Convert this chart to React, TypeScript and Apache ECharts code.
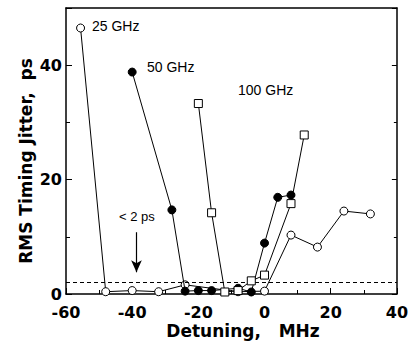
import React, { useEffect, useRef } from "react";
import * as echarts from "echarts";

const f25x = [-55.6, -48, -40, -32, -24, -8, 0, 8, 16, 24, 32];
const f25y = [46.5, 0.4, 0.6, 0.4, 1.6, 0.4, 0.5, 10.3, 8.2, 14.5, 14.0];
const f50x = [-40, -28, -24, -20, -16, -8, -4, 0, 4, 8];
const f50y = [38.8, 14.7, 0.5, 0.6, 0.6, 1.0, 0.35, 8.9, 16.9, 17.3];
const f100x = [-20, -16, -12, -8, -4, 0, 8, 12];
const f100y = [33.3, 14.2, 0.35, 0.6, 2.3, 3.3, 15.8, 27.8];
const xTicks = [-60, -40, -20, 0, 20, 40];
const yTicks = [0, 20, 40];
const thresholdPs = 2;
const arrowX = -38.7;
const arrowFrom = 10.8;
const arrowTo = 3.8;

const zip = (xs: number[], ys: number[]) => xs.map((x, i) => [x, ys[i]]);

export default function App() {
  const ref = useRef<HTMLDivElement>(null);
  useEffect(() => {
    document.body.style.margin = "0";
    const chart = echarts.init(ref.current!, null, { renderer: "svg" });
    const tickFont = {
      fontFamily: "DejaVu Sans",
      fontWeight: "bold" as const,
      fontSize: 16,
      color: "#000",
    };
    const axisLine = { show: true, onZero: false, lineStyle: { color: "#000", width: 1.5 } };
    chart.setOption({
      animation: false,
      backgroundColor: "#fff",
      grid: { left: 66, right: 11, top: 8, bottom: 50 },
      xAxis: [
        {
          type: "value",
          min: -60,
          max: 40,
          interval: 20,
          axisLine,
          axisTick: { inside: true, length: 6, lineStyle: { color: "#000" } },
          minorTick: { show: true, splitNumber: 2, length: 4, lineStyle: { color: "#000" } },
          splitLine: { show: false },
          axisLabel: {
            ...tickFont,
            margin: 10,
            formatter: (v: number) => (xTicks.includes(v) ? String(v) : ""),
          },
        },
        {
          type: "value",
          position: "top",
          min: -60,
          max: 40,
          interval: 20,
          axisLine,
          axisTick: { show: false },
          axisLabel: { show: false },
          splitLine: { show: false },
        },
      ],
      yAxis: [
        {
          type: "value",
          min: 0,
          max: 50,
          interval: 20,
          axisLine,
          axisTick: { inside: true, length: 6, lineStyle: { color: "#000" } },
          minorTick: { show: true, splitNumber: 2, length: 4, lineStyle: { color: "#000" } },
          splitLine: { show: false },
          axisLabel: {
            ...tickFont,
            margin: 4,
            formatter: (v: number) => (yTicks.includes(v) ? String(v) : ""),
          },
        },
        {
          type: "value",
          position: "right",
          min: 0,
          max: 50,
          interval: 20,
          axisLine,
          axisTick: { inside: true, length: 5, lineStyle: { color: "#000" } },
          minorTick: { show: true, splitNumber: 2, length: 3, lineStyle: { color: "#000" } },
          axisLabel: { show: false },
          splitLine: { show: false },
        },
      ],
      series: [
        {
          name: "25 GHz",
          type: "line",
          data: zip(f25x, f25y),
          symbol: "circle",
          symbolSize: 8,
          lineStyle: { color: "#000", width: 1 },
          itemStyle: { color: "#fff", borderColor: "#000", borderWidth: 1 },
          z: 3,
          markLine: {
            silent: true,
            symbol: ["none", "none"],
            label: { show: false },
            lineStyle: { color: "#000", type: [4, 3], width: 1 },
            data: [{ yAxis: thresholdPs }],
          },
        },
        {
          name: "50 GHz",
          type: "line",
          data: zip(f50x, f50y),
          symbol: "circle",
          symbolSize: 8,
          lineStyle: { color: "#000", width: 1 },
          itemStyle: { color: "#000", borderColor: "#000", borderWidth: 1 },
          z: 4,
          markLine: {
            silent: true,
            symbol: ["none", "arrow"],
            symbolSize: [8, 12],
            label: { show: false },
            lineStyle: { color: "#000", type: "solid", width: 1.2 },
            data: [[{ coord: [arrowX, arrowFrom] }, { coord: [arrowX, arrowTo] }]],
          },
        },
        {
          name: "100 GHz",
          type: "line",
          data: zip(f100x, f100y),
          symbol: "rect",
          symbolSize: 8,
          lineStyle: { color: "#000", width: 1 },
          itemStyle: { color: "#fff", borderColor: "#000", borderWidth: 1 },
          z: 5,
        },
      ],
      graphic: [
        {
          type: "text",
          left: 92,
          top: 19,
          style: { text: "25 GHz", font: "14px 'Liberation Sans'", fill: "#000" },
        },
        {
          type: "text",
          left: 147,
          top: 60,
          style: { text: "50 GHz", font: "14px 'Liberation Sans'", fill: "#000" },
        },
        {
          type: "text",
          left: 238,
          top: 83,
          style: { text: "100 GHz", font: "14px 'Liberation Sans'", fill: "#000" },
        },
        {
          type: "text",
          left: 119,
          top: 210,
          style: { text: "< 2 ps", font: "13px 'Liberation Sans'", fill: "#000" },
        },
        {
          type: "text",
          x: 243,
          y: 331,
          style: {
            text: "Detuning,   MHz",
            font: "bold 17px 'DejaVu Sans'",
            fill: "#000",
            align: "center",
            verticalAlign: "middle",
          },
        },
        {
          type: "text",
          x: 26,
          y: 161,
          rotation: Math.PI / 2,
          style: {
            text: "RMS Timing Jitter,  ps",
            font: "bold 17px 'DejaVu Sans'",
            fill: "#000",
            align: "center",
            verticalAlign: "middle",
          },
        },
      ],
    });
    return () => chart.dispose();
  }, []);
  return <div ref={ref} style={{ width: 411, height: 344 }} />;
}
